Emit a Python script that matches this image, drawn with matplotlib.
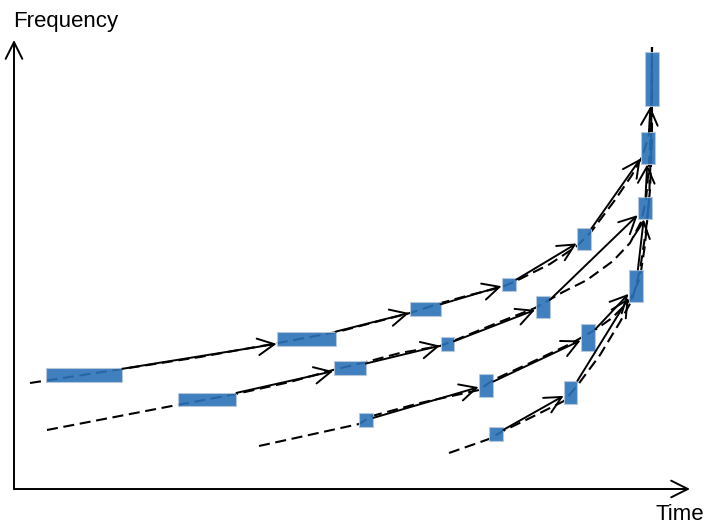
import matplotlib
matplotlib.use("Agg")
import matplotlib.pyplot as plt
from matplotlib.patches import Rectangle

plt.rcParams['font.family'] = ['Liberation Sans', 'DejaVu Sans']

# ---- data (time, frequency); origin at axis corner ----
# boxes: name -> (time centre, freq centre, time width, freq height)
box_names = ["A", "B", "C", "D", "E", "F", "G",
             "a", "b", "c", "d", "e",
             "p", "q", "r", "s",
             "i", "ii"]
box_t = [70, 292.5, 411, 495, 570, 634, 638,
         193, 335.5, 433, 528.5, 631,
         352, 472, 574, 622,
         482, 556.5]
box_f = [114, 150, 180, 205, 250, 341, 410,
         89.5, 121.5, 145, 182, 281,
         69, 104, 152, 203,
         55, 97]
box_w = [76, 59, 31, 14, 14, 14, 14,
         58, 32, 13, 14, 14,
         14, 14, 14, 14,
         14, 13]
box_h = [14, 14, 14, 13, 22, 32, 54,
         13, 14, 14, 22, 22,
         14, 23, 27, 32,
         14, 23]

# arrows between boxes (source, target)
arrow_src = ["A", "B", "C", "D", "E", "F", "a", "b", "c", "d", "e",
             "p", "q", "r", "s", "i", "ii"]
arrow_dst = ["B", "C", "D", "E", "F", "G", "b", "c", "d", "e", "F",
             "q", "r", "s", "e", "ii", "s"]

# dashed ridge curves
curve1_t = [16, 108, 186, 264, 323, 396, 427, 456, 488, 502, 536, 563, 577, 601, 618, 629, 636, 638, 638]
curve1_f = [106, 120, 132, 146, 157, 176, 186, 194, 202, 208, 225, 243, 257, 289, 314, 334, 359, 389, 442]
curve2_t = [33, 163, 222, 276, 319, 352, 386, 426, 439, 483, 521, 535, 549, 573, 599, 616, 627, 632, 635, 637, 638]
curve2_f = [59, 84, 95, 107, 119, 127, 136, 143, 148, 166, 181, 189, 197, 209, 228, 246, 267, 289, 324, 359, 442]
curve3_t = [245, 286, 345, 358, 406, 465, 479, 516, 556, 581, 598, 616, 626, 631, 635, 637, 638]
curve3_f = [43, 52, 65, 73, 86, 99, 109, 126, 145, 159, 171, 189, 211, 244, 289, 339, 442]
curve4_t = [435, 475, 489, 516, 550, 563, 586, 606, 618, 626, 632, 636, 638, 638]
curve4_f = [36, 50, 58, 71, 88, 103, 134, 167, 189, 219, 259, 299, 349, 442]
curves_t = [curve1_t, curve2_t, curve3_t, curve4_t]
curves_f = [curve1_f, curve2_f, curve3_f, curve4_f]

# axes extents and labels
x_axis_end = 676
y_axis_end = 449
xlabel = "Time"
ylabel = "Frequency"

# ---- drawing ----
fig = plt.figure(figsize=(7.08, 5.26), dpi=100)
ax = fig.add_axes([0, 0, 1, 1])
ax.set_xlim(-14, 694)
ax.set_ylim(-37, 489)
ax.axis("off")

for ct, cf in zip(curves_t, curves_f):
    ax.plot(ct, cf, color="black", lw=1.5, linestyle=(0, (5.3, 2.7)), zorder=1)

patches = {}
for n, t, f, w, h in zip(box_names, box_t, box_f, box_w, box_h):
    r = Rectangle((t - w / 2, f - h / 2), w, h, facecolor="#2b72b8",
                  edgecolor="#b8c8d8", lw=0.8, alpha=0.9, zorder=2)
    ax.add_patch(r)
    patches[n] = (r, t, f)

astyle = "->,head_length=0.6,head_width=0.3"
for s, d in zip(arrow_src, arrow_dst):
    rs, ts, fs = patches[s]
    rd, td, fd = patches[d]
    ax.annotate("", xy=(td, fd), xytext=(ts, fs),
                arrowprops=dict(arrowstyle=astyle, mutation_scale=20,
                                color="black", lw=1.4,
                                patchA=rs, patchB=rd, shrinkA=0, shrinkB=0),
                zorder=3)

# axis arrows
ax.annotate("", xy=(x_axis_end, 0), xytext=(0, 0),
            arrowprops=dict(arrowstyle=astyle, mutation_scale=20, color="black",
                            lw=1.4, shrinkA=0, shrinkB=0))
ax.annotate("", xy=(0, y_axis_end), xytext=(0, 0),
            arrowprops=dict(arrowstyle=astyle, mutation_scale=20, color="black",
                            lw=1.4, shrinkA=0, shrinkB=0))

ax.text(-1, 462.3, ylabel, fontsize=16, ha="left", va="baseline")
ax.text(641, -35.5, xlabel, fontsize=16, ha="left", va="bottom")

fig.savefig("out.png", dpi=100)
